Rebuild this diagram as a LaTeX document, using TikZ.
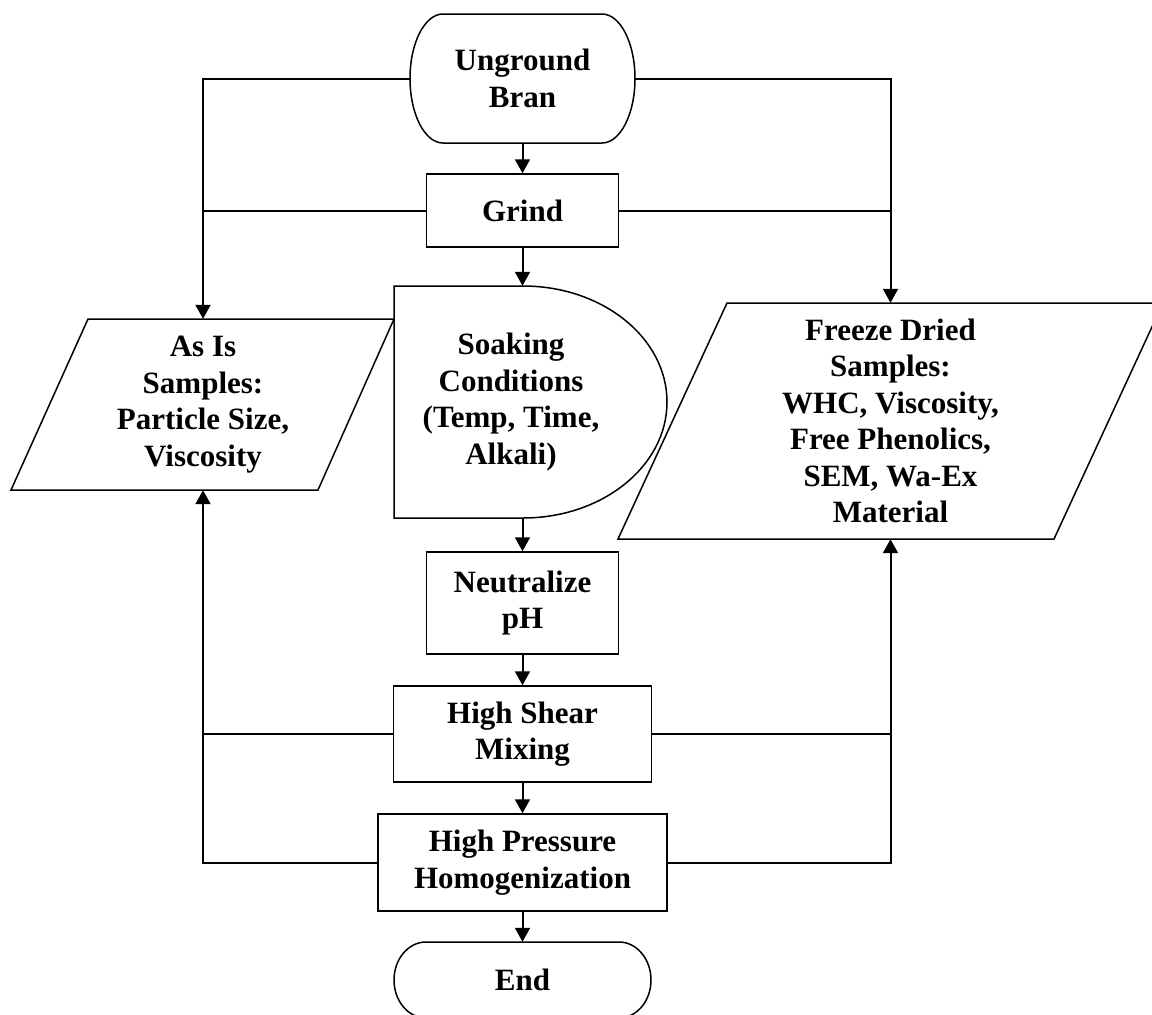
\documentclass[tikz,border=0pt]{standalone}
\usepackage{fontspec}
\setmainfont{Liberation Serif}
\usetikzlibrary{arrows.meta, positioning}

\begin{document}
\begin{tikzpicture}[x=1pt, y=-1pt,
    every node/.style={font=\fontsize{31}{36.5}\selectfont\bfseries, align=center, inner sep=0pt},
    box/.style={draw, line width=1.5pt},
    outline/.style={line width=1.5pt},
    flow/.style={line width=2pt, -{Triangle[length=14pt, width=15pt]}},
    link/.style={line width=2pt}]
\useasboundingbox (0,0) rectangle (1152,1015);

% Start (terminator)
\draw[outline] (443,14) -- (602,14) arc[start angle=-90, end angle=90, x radius=33, y radius=64.5]
    -- (443,143) arc[start angle=90, end angle=270, x radius=33, y radius=64.5] -- cycle;
\node[minimum width=225pt, minimum height=129pt] (bran) at (522.5,78.5) {Unground\\Bran};

\node[box, minimum width=192pt, minimum height=73pt] (grind) at (522.5,210.5) {Grind};

% Soaking (delay shape)
\draw[outline] (394,286) -- (523,286) arc[start angle=-90, end angle=90, x radius=144, y radius=116] -- (394,518) -- cycle;
\node[minimum height=232pt] (soak) at (511,402) {Soaking\\Conditions\\(Temp, Time,\\Alkali)};

\node[box, minimum width=192pt, minimum height=102pt] (neut) at (522.5,603) {Neutralize\\pH};
\node[box, minimum width=258pt, minimum height=96pt] (shear) at (522.5,734) {High Shear\\Mixing};
\node[box, minimum width=289pt, minimum height=97pt] (hpress) at (522.5,862.5) {High Pressure\\Homogenization};

% End (terminator)
\draw[outline] (426,942) -- (619,942) arc[start angle=-90, end angle=90, x radius=32, y radius=38]
    -- (426,1018) arc[start angle=90, end angle=270, x radius=32, y radius=38] -- cycle;
\node[minimum width=257pt, minimum height=76pt] (endn) at (522.5,980) {End};

% Sample outputs
\draw[outline] (88,319) -- (394,319) -- (318,490) -- (11,490) -- cycle;
\node[minimum height=171pt] (asis) at (203,404.5) {As Is\\Samples:\\Particle Size,\\Viscosity};

\draw[outline] (727,303) -- (1163,303) -- (1054,539) -- (618,539) -- cycle;
\node[minimum height=236pt] (dried) at (890.5,421) {Freeze Dried\\Samples:\\WHC, Viscosity,\\Free Phenolics,\\SEM, Wa-Ex\\Material};

% Process flow
\draw[flow] (bran) -- (grind);
\draw[flow] (grind.south) -- (grind.south |- soak.north);
\draw[flow] (neut.north |- soak.south) -- (neut);
\draw[flow] (neut) -- (shear);
\draw[flow] (shear) -- (hpress);
\draw[flow] (hpress) -- (endn);

% Sampling lines
\draw[flow] (bran.west) -| (asis.north);
\draw[link] (grind.west) -- (grind.west -| asis.north);
\draw[flow] (bran.east) -| (dried.north);
\draw[link] (grind.east) -- (grind.east -| dried.north);
\draw[flow] (hpress.west) -| (asis.south);
\draw[link] (shear.west) -- (shear.west -| asis.south);
\draw[flow] (hpress.east) -| (dried.south);
\draw[link] (shear.east) -- (shear.east -| dried.south);
\end{tikzpicture}
\end{document}
